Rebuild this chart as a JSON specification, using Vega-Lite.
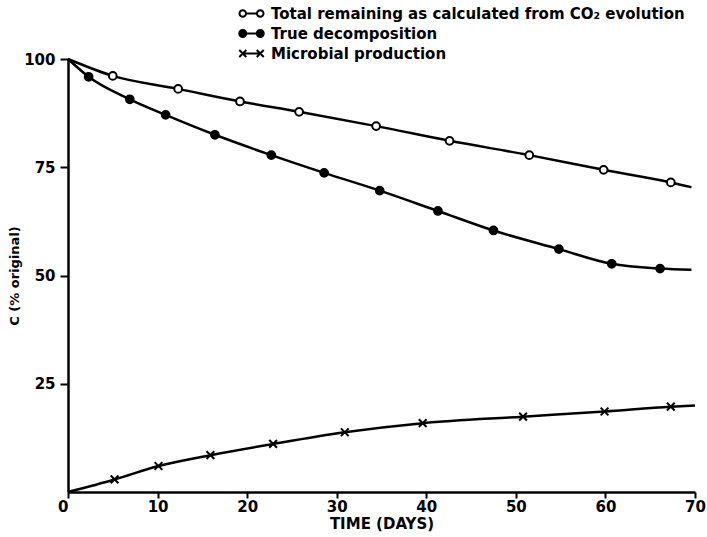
{
  "$schema": "https://vega.github.io/schema/vega-lite/v6.json",
  "width": 627,
  "height": 433,
  "autosize": {"type": "none"},
  "padding": {"left": 68, "top": 59, "right": 12, "bottom": 45},
  "background": "white",
  "config": {"view": {"stroke": null}, "font": "DejaVu Sans"},
  "data": {
    "values": [
      {"series": "Total remaining as calculated from CO₂ evolution", "day": 0, "c": 100, "marker": false},
      {"series": "Total remaining as calculated from CO₂ evolution", "day": 5.0, "c": 96.1, "marker": true},
      {"series": "Total remaining as calculated from CO₂ evolution", "day": 12.3, "c": 93.1, "marker": true},
      {"series": "Total remaining as calculated from CO₂ evolution", "day": 19.2, "c": 90.2, "marker": true},
      {"series": "Total remaining as calculated from CO₂ evolution", "day": 25.8, "c": 87.8, "marker": true},
      {"series": "Total remaining as calculated from CO₂ evolution", "day": 34.4, "c": 84.5, "marker": true},
      {"series": "Total remaining as calculated from CO₂ evolution", "day": 42.6, "c": 81.1, "marker": true},
      {"series": "Total remaining as calculated from CO₂ evolution", "day": 51.5, "c": 77.8, "marker": true},
      {"series": "Total remaining as calculated from CO₂ evolution", "day": 59.8, "c": 74.4, "marker": true},
      {"series": "Total remaining as calculated from CO₂ evolution", "day": 67.3, "c": 71.5, "marker": true},
      {"series": "Total remaining as calculated from CO₂ evolution", "day": 69.6, "c": 70.4, "marker": false},
      {"series": "True decomposition", "day": 0, "c": 100, "marker": false},
      {"series": "True decomposition", "day": 2.3, "c": 95.9, "marker": true},
      {"series": "True decomposition", "day": 6.9, "c": 90.7, "marker": true},
      {"series": "True decomposition", "day": 10.9, "c": 87.1, "marker": true},
      {"series": "True decomposition", "day": 16.4, "c": 82.5, "marker": true},
      {"series": "True decomposition", "day": 22.7, "c": 77.8, "marker": true},
      {"series": "True decomposition", "day": 28.6, "c": 73.7, "marker": true},
      {"series": "True decomposition", "day": 34.8, "c": 69.6, "marker": true},
      {"series": "True decomposition", "day": 41.3, "c": 64.9, "marker": true},
      {"series": "True decomposition", "day": 47.5, "c": 60.4, "marker": true},
      {"series": "True decomposition", "day": 54.8, "c": 56.1, "marker": true},
      {"series": "True decomposition", "day": 60.7, "c": 52.7, "marker": true},
      {"series": "True decomposition", "day": 66.1, "c": 51.6, "marker": true},
      {"series": "True decomposition", "day": 69.6, "c": 51.3, "marker": false},
      {"series": "Microbial production", "day": 0, "c": 0, "marker": false},
      {"series": "Microbial production", "day": 5.2, "c": 2.9, "marker": true},
      {"series": "Microbial production", "day": 10.1, "c": 6.0, "marker": true},
      {"series": "Microbial production", "day": 15.9, "c": 8.5, "marker": true},
      {"series": "Microbial production", "day": 22.9, "c": 11.1, "marker": true},
      {"series": "Microbial production", "day": 30.9, "c": 13.8, "marker": true},
      {"series": "Microbial production", "day": 39.6, "c": 15.9, "marker": true},
      {"series": "Microbial production", "day": 50.8, "c": 17.4, "marker": true},
      {"series": "Microbial production", "day": 59.9, "c": 18.6, "marker": true},
      {"series": "Microbial production", "day": 67.3, "c": 19.7, "marker": true},
      {"series": "Microbial production", "day": 70.0, "c": 20.0, "marker": false}
    ]
  },
  "encoding": {
    "x": {
      "field": "day",
      "type": "quantitative",
      "scale": {"domain": [0, 70], "nice": false, "zero": true},
      "axis": {
        "title": "TIME (DAYS)",
        "values": [0, 10, 20, 30, 40, 50, 60, 70],
        "grid": false,
        "domainColor": "black",
        "domainWidth": 2.5,
        "tickColor": "black",
        "tickWidth": 2,
        "tickSize": 6,
        "labelFont": "DejaVu Sans",
        "labelFontSize": 15,
        "labelFontWeight": "bold",
        "labelColor": "black",
        "labelPadding": 1,
        "labelFlush": false,
        "labelOverlap": false,
        "labelAlign": {"condition": {"test": "datum.value === 0", "value": "right"}, "value": "center"},
        "titleFont": "DejaVu Sans",
        "titleFontSize": 15,
        "titleFontWeight": "bold",
        "titleColor": "black",
        "titlePadding": 2
      }
    },
    "y": {
      "field": "c",
      "type": "quantitative",
      "scale": {"domain": [0, 100], "nice": false},
      "axis": {
        "title": "C (% original)",
        "values": [25, 50, 75, 100],
        "grid": false,
        "domainColor": "black",
        "domainWidth": 2.5,
        "tickColor": "black",
        "tickWidth": 2,
        "tickSize": 8,
        "labelFont": "DejaVu Sans",
        "labelFontSize": 15,
        "labelFontWeight": "bold",
        "labelColor": "black",
        "labelPadding": 5,
        "titleFont": "DejaVu Sans",
        "titleFontSize": 13,
        "titleFontWeight": "bold",
        "titleColor": "black",
        "titlePadding": 2
      }
    }
  },
  "resolve": {"scale": {"shape": "independent"}},
  "layer": [
    {
      "mark": {"type": "line", "interpolate": "monotone", "color": "black", "strokeWidth": 2.5},
      "encoding": {"detail": {"field": "series", "type": "nominal"}}
    },
    {
      "transform": [{"filter": "datum.marker"}],
      "mark": {"type": "point", "filled": true, "stroke": "black", "strokeWidth": 2, "opacity": 1, "size": 60},
      "encoding": {
        "shape": {
          "field": "series",
          "type": "nominal",
          "scale": {
            "domain": ["Total remaining as calculated from CO₂ evolution", "True decomposition", "Microbial production"],
            "range": ["circle", "circle", "M-1,-1L1,1M-1,1L1,-1"]
          },
          "legend": null
        },
        "fill": {
          "field": "series",
          "type": "nominal",
          "scale": {
            "domain": ["Total remaining as calculated from CO₂ evolution", "True decomposition", "Microbial production"],
            "range": ["white", "black", "black"]
          },
          "legend": null
        }
      }
    },
    {
      "transform": [{"filter": "datum.marker && datum.day < 0"}],
      "mark": {"type": "point", "filled": true, "fill": "black", "strokeWidth": 0, "opacity": 1, "size": 100},
      "encoding": {
        "shape": {
          "field": "series",
          "type": "nominal",
          "scale": {
            "domain": ["Total remaining as calculated from CO₂ evolution", "True decomposition", "Microbial production"],
            "range": [
              "M-4.2,0A0.85,0.85 0 1,1 -2.5,0A0.85,0.85 0 1,1 -4.2,0ZM-3.8,0A0.45,0.45 0 1,0 -2.9,0A0.45,0.45 0 1,0 -3.8,0ZM-2.6,-0.22L-0.6,-0.22L-0.6,0.22L-2.6,0.22ZM-0.7,0A0.85,0.85 0 1,1 1,0A0.85,0.85 0 1,1 -0.7,0ZM-0.3,0A0.45,0.45 0 1,0 0.6,0A0.45,0.45 0 1,0 -0.3,0Z",
              "M-4.25,0A0.9,0.9 0 1,1 -2.45,0A0.9,0.9 0 1,1 -4.25,0ZM-2.6,-0.22L-0.6,-0.22L-0.6,0.22L-2.6,0.22ZM-0.75,0A0.9,0.9 0 1,1 1.05,0A0.9,0.9 0 1,1 -0.75,0Z",
              "M-3.909,-0.841L-2.509,0.559L-2.791,0.841L-4.191,-0.559ZM-3.909,0.841L-4.191,0.559L-2.791,-0.841L-2.509,-0.559ZM-3.35,-0.2L0.15,-0.2L0.15,0.2L-3.35,0.2ZM-0.409,-0.841L0.991,0.559L0.709,0.841L-0.691,-0.559ZM-0.409,0.841L-0.691,0.559L0.709,-0.841L0.991,-0.559Z"
            ]
          },
          "legend": {
            "title": null,
            "orient": "none",
            "legendX": 184,
            "legendY": -53,
            "direction": "vertical",
            "padding": 0,
            "symbolSize": 100,
            "symbolFillColor": "black",
            "symbolStrokeWidth": 0,
            "symbolOpacity": 1,
            "labelFont": "DejaVu Sans",
            "labelFontSize": 15,
            "labelFontWeight": "bold",
            "labelColor": "black",
            "labelOffset": 4,
            "labelLimit": 600,
            "rowPadding": 4
          }
        }
      }
    }
  ]
}
